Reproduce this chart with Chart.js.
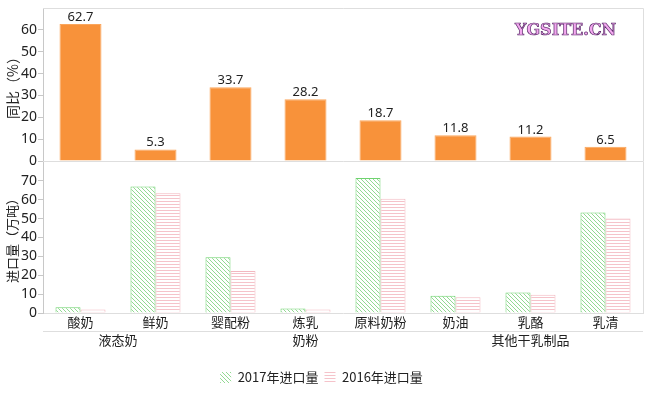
<!DOCTYPE html>
<html>
<head>
<meta charset="utf-8">
<script src="https://cdn.jsdelivr.net/npm/chart.js@4.4.1/dist/chart.umd.min.js"></script>
<style>
html, body { margin: 0; padding: 0; background: #fff; overflow: hidden; width: 651px; height: 393px; }
#wrap { position: relative; width: 651px; height: 393px; overflow: hidden; }
#chartTop { position: absolute; left: 0; top: 0; }
#chartBottom { position: absolute; left: 0; top: 162px; }
#mark { position: absolute; left: 515px; top: 20px; font: bold 16px "DejaVu Serif", serif; color: #f3a8ef;
  -webkit-text-stroke: 0.7px #5a2a6a; letter-spacing: 0px; }
</style>
</head>
<body>
<div id="wrap">
  <canvas id="chartTop" width="651" height="170"></canvas>
  <canvas id="chartBottom" width="651" height="232"></canvas>
  <div id="mark">YGSITE.CN</div>
</div>
<script>
// data
const categories = ['酸奶', '鲜奶', '婴配粉', '炼乳', '原料奶粉', '奶油', '乳酪', '乳清']
const yoyGrowth = [62.7, 5.3, 33.7, 28.2, 18.7, 11.8, 11.2, 6.5]
const imports2017 = [3.0, 67.0, 29.6, 2.4, 71.5, 9.2, 10.9, 53.3]
const imports2016 = [1.8, 63.4, 22.2, 1.8, 60.5, 8.3, 9.7, 50.1]
const groupNames = ['液态奶', '奶粉', '其他干乳制品']
const groupSpans = [[0, 1], [2, 4], [5, 7]]
const topTicks = [0, 10, 20, 30, 40, 50, 60]
const bottomTicks = [0, 10, 20, 30, 40, 50, 60, 70]

const FONT = '"Noto Sans", "Noto Sans CJK SC", sans-serif'
const CJK = '"Noto Sans CJK SC", "Noto Sans", sans-serif'
Chart.defaults.font.family = FONT
Chart.defaults.font.size = 13
Chart.defaults.color = '#222'

const AXIS = '#c8c8c8'
const FRAME = '#dedede'

// hatch fills
function hatch(kind) {
  const tile = document.createElement('canvas')
  tile.width = 4
  tile.height = kind === 'diag' ? 4 : 3
  const t = tile.getContext('2d')
  t.fillStyle = '#fff'
  t.fillRect(0, 0, tile.width, tile.height)
  if (kind === 'diag') {
    t.fillStyle = '#93d993'
    for (let i = 0; i < 4; i++) t.fillRect(i, i, 1, 1)
  } else {
    t.fillStyle = '#f5c3ca'
    t.fillRect(0, 0, 4, 1)
  }
  return document.createElement('canvas').getContext('2d').createPattern(tile, 'repeat')
}

// value labels on top bars
const valueLabels = {
  id: 'valueLabels',
  afterDatasetsDraw(chart) {
    const ctx = chart.ctx
    const values = chart.data.datasets[0].data
    ctx.save()
    ctx.font = '13px ' + FONT
    ctx.fillStyle = '#222'
    ctx.textAlign = 'center'
    ctx.textBaseline = 'alphabetic'
    chart.getDatasetMeta(0).data.forEach((bar, i) => {
      ctx.fillText(values[i], bar.x, bar.y - 3)
    })
    ctx.restore()
  }
}

// frame lines of top plot
const frameTop = {
  id: 'frameTop',
  afterDraw(chart) {
    const { ctx, chartArea: a } = chart
    ctx.save()
    ctx.strokeStyle = FRAME
    ctx.lineWidth = 1
    ctx.beginPath()
    ctx.moveTo(a.left, a.top + 0.5); ctx.lineTo(a.right + 0.5, a.top + 0.5)
    ctx.lineTo(a.right + 0.5, a.bottom + 0.5); ctx.lineTo(a.left, a.bottom + 0.5)
    ctx.stroke()
    ctx.restore()
  }
}

// group labels under bottom x axis + right frame
const groupAxis = {
  id: 'groupAxis',
  afterDraw(chart) {
    const { ctx, chartArea: a, scales: { x } } = chart
    ctx.save()
    ctx.strokeStyle = FRAME
    ctx.lineWidth = 1
    ctx.beginPath()
    ctx.moveTo(a.right + 0.5, 0); ctx.lineTo(a.right + 0.5, a.bottom)
    ctx.moveTo(a.left, a.bottom + 18.5); ctx.lineTo(a.right, a.bottom + 18.5)
    ctx.stroke()
    ctx.font = '13px ' + CJK
    ctx.fillStyle = '#222'
    ctx.textAlign = 'center'
    ctx.textBaseline = 'middle'
    groupNames.forEach((name, i) => {
      const [from, to] = groupSpans[i]
      const cx = (x.getPixelForValue(from) + x.getPixelForValue(to)) / 2
      ctx.fillText(name, cx, a.bottom + 27)
    })
    ctx.restore()
  }
}

function yAxis(max, ticks, title, titleSize) {
  return {
    min: 0,
    max: max,
    afterBuildTicks(s) { s.ticks = ticks.map(v => ({ value: v })) },
    ticks: { padding: 1, font: { size: 14 }, color: '#222' },
    grid: { drawOnChartArea: false, tickLength: 5, color: AXIS },
    border: { color: AXIS },
    title: { display: true, text: title, font: { size: titleSize, family: CJK }, padding: { top: 4, bottom: 0 } },
    afterFit(s) {
      s.width = 43
      s.paddingTop = 0
      s.paddingBottom = 0
    }
  }
}

new Chart(document.getElementById('chartTop'), {
  type: 'bar',
  data: {
    labels: categories,
    datasets: [{
      label: '同比',
      data: yoyGrowth,
      backgroundColor: '#f8923a',
      borderColor: '#fba65c',
      borderWidth: 1,
      categoryPercentage: 0.56,
      barPercentage: 1
    }]
  },
  options: {
    responsive: false,
    animation: false,
    layout: { padding: { top: 8, right: 8, bottom: 9, left: 0 } },
    plugins: { legend: { display: false }, tooltip: { enabled: false } },
    scales: {
      x: { display: false },
      y: yAxis(70, topTicks, '同比（%）', 14)
    }
  },
  plugins: [valueLabels, frameTop]
})

new Chart(document.getElementById('chartBottom'), {
  type: 'bar',
  data: {
    labels: categories,
    datasets: [{
      label: '2017年进口量',
      data: imports2017,
      backgroundColor: hatch('diag'),
      borderColor: '#6fd36f',
      borderWidth: 1,
      categoryPercentage: 0.667,
      barPercentage: 1
    }, {
      label: '2016年进口量',
      data: imports2016,
      backgroundColor: hatch('horiz'),
      borderColor: '#f2b8c0',
      borderWidth: 1,
      categoryPercentage: 0.667,
      barPercentage: 1
    }]
  },
  options: {
    responsive: false,
    animation: false,
    layout: { padding: { top: 0, right: 8, bottom: 0, left: 0 } },
    plugins: {
      tooltip: { enabled: false },
      legend: {
        position: 'bottom',
        labels: {
          boxWidth: 11,
          boxHeight: 11,
          padding: 6,
          color: '#222',
          font: { size: 13, family: CJK },
          generateLabels(chart) {
            return Chart.defaults.plugins.legend.labels.generateLabels(chart)
              .map(l => Object.assign(l, { lineWidth: 0 }))
          }
        }
      }
    },
    scales: {
      x: {
        grid: { display: false, drawTicks: false },
        border: { color: FRAME },
        ticks: { padding: 1, color: '#222', font: { size: 13, family: CJK } },
        afterFit(s) { s.height = 52 }
      },
      y: yAxis(80, bottomTicks, '进口量（万吨）', 13)
    }
  },
  plugins: [groupAxis]
})
</script>
</body>
</html>
